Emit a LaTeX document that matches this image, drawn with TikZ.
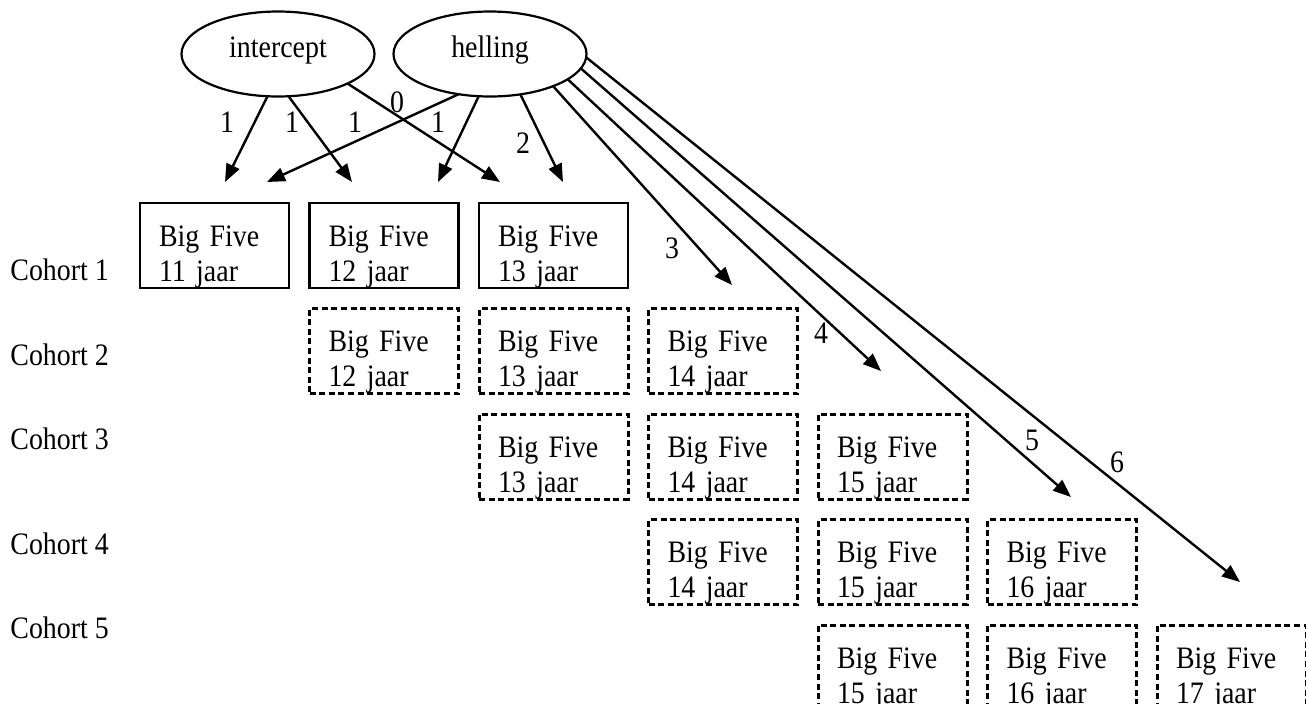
\documentclass[tikz,border=0pt]{standalone}
\usepackage{fontspec}
\setmainfont{Liberation Serif}[FakeStretch=0.894]
\usetikzlibrary{arrows.meta,shapes.geometric}
\begin{document}
\begin{tikzpicture}[x=0.5pt,y=-0.5pt,
  every node/.style={font=\fontsize{15.6pt}{17.5pt}\selectfont},
  bigbox/.style={anchor=north west, align=left, text width=55.5pt,
    inner xsep=9.5pt, inner ysep=0pt, text height=21.5pt, text depth=21pt,
    line width=1.4pt, outer sep=0pt},
  solidbox/.style={bigbox, draw},
  dashbox/.style={bigbox, draw, line width=1.5pt, dash pattern=on 3pt off 1.8pt},
  ell/.style={draw, ellipse, minimum width=96.5pt, minimum height=42.5pt,
    inner sep=0pt, outer sep=0pt, line width=1.1pt, text height=7pt, text depth=3.5pt},
  arr/.style={line width=1.2pt, -{Triangle[length=9pt,width=7pt]}},
  lab/.style={inner sep=0pt},
]
\clip (0,0) rectangle (1306,703);
\fill[white] (0,0) rectangle (1306,703);

% latent factors
\node[ell] (int) at (278,54) {intercept};
\node[ell] (hel) at (490,54) {helling};

% cohort labels
\node[lab, anchor=base west] (c1) at (10,280) {Cohort 1};
\node[lab, anchor=base west] (c2) at (10,365) {Cohort 2};
\node[lab, anchor=base west] (c3) at (10,449) {Cohort 3};
\node[lab, anchor=base west] (c4) at (10,554) {Cohort 4};
\node[lab, anchor=base west] (c5) at (10,638) {Cohort 5};

% boxes
\foreach \c in {1,2,3} {
  \pgfmathtruncatemacro\age{10+\c}
  \node[solidbox] (b1-\c) at ({140+169.5*(\c-1)},203) {Big Five\\\age{} jaar};
}
\foreach \r in {2,...,5} {
  \foreach \k in {0,1,2} {
    \pgfmathtruncatemacro\c{\r+\k}
    \pgfmathtruncatemacro\age{10+\c}
    \node[dashbox] (b\r-\c) at ({140+169.5*(\c-1)},{203+105.5*(\r-1)}) {Big Five\\\age{} jaar};
  }
}

% arrow end points
\coordinate (tA1) at (225,182);
\coordinate (tH0) at (267,182);
\coordinate (tA2) at (352,182);
\coordinate (tH1) at (438,182);
\coordinate (tA3) at (500,182);
\coordinate (tH2) at (563,182);
\coordinate (tH3) at (732,285);
\coordinate (tH4) at (881,371);
\coordinate (tH5) at (1071,497);
\coordinate (tH6) at (1240,582);

% arrows
\draw[arr] (int.-104.3) -- (tA1);
\draw[arr] (int.-76.9) -- (tA2);
\draw[arr] (int.-23.9) -- (tA3);
\draw[arr] (hel.-128) -- (tH0);
\draw[arr] (hel.-105.6) -- (tH1);
\draw[arr] (hel.-53.1) -- (tH2);
\draw[arr] (hel.-27.6) -- (tH3);
\draw[arr] (hel.-18) -- (tH4);
\draw[arr] (hel.-9.9) -- (tH5);
\draw[arr] (hel.-2.4) -- (tH6);

% loadings
\node[lab] (l1) at (227,122) {1};
\node[lab] (l2) at (292,122) {1};
\node[lab] (l3) at (355,122) {1};
\node[lab] (l4) at (397,102) {0};
\node[lab] (l5) at (438,122) {1};
\node[lab] (l6) at (523,143) {2};
\node[lab] (l7) at (672,248) {3};
\node[lab] (l8) at (821,333) {4};
\node[lab] (l9) at (1032,440) {5};
\node[lab] (l10) at (1117,462) {6};
\end{tikzpicture}
\end{document}
